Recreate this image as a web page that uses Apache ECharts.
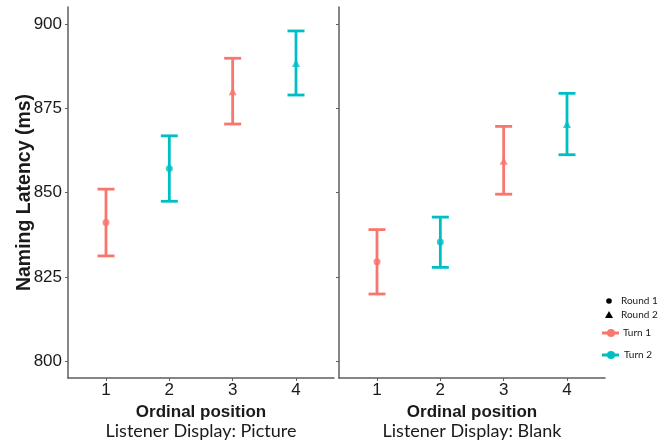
<!DOCTYPE html>
<html>
<head>
<meta charset="utf-8">
<script src="https://cdn.jsdelivr.net/npm/echarts@6/dist/echarts.min.js"></script>
<style>
  html, body { margin: 0; padding: 0; background: #fff; }
  #chart { width: 670px; height: 445px; }
</style>
</head>
<body>
<div id="chart"></div>
<script>
// ordinal positions and the condition of each point
const positions = [1, 2, 3, 4]
const turnOf = ['Turn 1', 'Turn 2', 'Turn 1', 'Turn 2']
const roundOf = ['Round 1', 'Round 1', 'Round 2', 'Round 2']
const yTicks = [800, 825, 850, 875, 900]

// Listener Display: Picture
const pictureMean = [841.1, 857.1, 880.0, 888.4]
const pictureLow = [831.2, 847.4, 870.3, 878.9]
const pictureHigh = [851.0, 866.8, 889.8, 897.9]

// Listener Display: Blank
const blankMean = [829.5, 835.3, 859.4, 870.3]
const blankLow = [819.9, 827.8, 849.5, 861.2]
const blankHigh = [839.0, 842.7, 869.6, 879.4]

const turnColor = { 'Turn 1': '#F8766D', 'Turn 2': '#00BFC4' }
const roundSymbol = { 'Round 1': 'circle', 'Round 2': 'triangle' }
const axisColor = '#5e5e5e'
const textColor = '#1a1a1a'

function errorData(low, high) {
  return positions.map((p, i) => ({
    value: [p, low[i], high[i]],
    itemStyle: { color: turnColor[turnOf[i]] }
  }))
}

function pointData(mean) {
  return positions.map((p, i) => ({
    value: [p, mean[i]],
    symbol: roundSymbol[roundOf[i]],
    symbolSize: roundOf[i] === 'Round 1' ? 7 : 8,
    itemStyle: { color: turnColor[turnOf[i]] }
  }))
}

function renderErrorBar(params, api) {
  const x = api.value(0)
  const top = api.coord([x, api.value(2)])
  const bottom = api.coord([x, api.value(1)])
  const half = 8.5
  const style = { stroke: api.visual('color'), lineWidth: 2.8 }
  return {
    type: 'group',
    children: [
      { type: 'line', shape: { x1: top[0], y1: top[1], x2: bottom[0], y2: bottom[1] }, style },
      { type: 'line', shape: { x1: top[0] - half, y1: top[1], x2: top[0] + half, y2: top[1] }, style },
      { type: 'line', shape: { x1: bottom[0] - half, y1: bottom[1], x2: bottom[0] + half, y2: bottom[1] }, style }
    ]
  }
}

function xAxisFor(gridIndex) {
  return {
    type: 'value',
    gridIndex: gridIndex,
    min: 0.4,
    max: 4.6,
    name: 'Ordinal position',
    nameLocation: 'middle',
    nameGap: 21,
    nameTextStyle: { fontFamily: 'Liberation Sans', fontWeight: 'bold', fontSize: 17, color: textColor },
    axisLine: { show: true, onZero: false, lineStyle: { color: axisColor, width: 1.5 } },
    axisTick: { show: true, length: 3, customValues: positions, lineStyle: { color: axisColor } },
    axisLabel: { customValues: positions, margin: 4, fontFamily: 'Liberation Sans', fontSize: 17, color: textColor },
    splitLine: { show: false }
  }
}

function yAxisFor(gridIndex, showLabels) {
  return {
    type: 'value',
    gridIndex: gridIndex,
    min: 795,
    max: 905,
    name: showLabels ? 'Naming Latency (ms)' : '',
    nameLocation: 'middle',
    nameGap: 33,
    nameMoveOverlap: false,
    nameTextStyle: { fontFamily: 'Liberation Sans', fontWeight: 'bold', fontSize: 19.5, color: textColor },
    axisLine: { show: true, onZero: false, lineStyle: { color: axisColor, width: 1.5 } },
    axisTick: { show: true, length: 3, customValues: yTicks, lineStyle: { color: axisColor } },
    axisLabel: { show: showLabels, customValues: yTicks, margin: 6, fontFamily: 'Liberation Sans', fontSize: 17, color: textColor },
    splitLine: { show: false }
  }
}

const chart = echarts.init(document.getElementById('chart'), null, { renderer: 'canvas' })

const legendFont = '10px Lato'
chart.setOption({
  animation: false,
  backgroundColor: '#fff',
  grid: [
    { left: 68, top: 7, width: 266, height: 371 },
    { left: 339, top: 7, width: 266, height: 371 }
  ],
  xAxis: [xAxisFor(0), xAxisFor(1)],
  yAxis: [yAxisFor(0, true), yAxisFor(1, false)],
  title: [
    { text: 'Listener Display: Picture', left: 201, top: 422, textAlign: 'center', padding: 0,
      textStyle: { fontFamily: 'Lato', fontWeight: 'normal', fontSize: 18, color: textColor } },
    { text: 'Listener Display: Blank', left: 472, top: 422, textAlign: 'center', padding: 0,
      textStyle: { fontFamily: 'Lato', fontWeight: 'normal', fontSize: 18, color: textColor } }
  ],
  series: [
    { type: 'custom', xAxisIndex: 0, yAxisIndex: 0, renderItem: renderErrorBar, encode: { x: 0, y: [1, 2] }, data: errorData(pictureLow, pictureHigh) },
    { type: 'scatter', xAxisIndex: 0, yAxisIndex: 0, data: pointData(pictureMean), z: 3 },
    { type: 'custom', xAxisIndex: 1, yAxisIndex: 1, renderItem: renderErrorBar, encode: { x: 0, y: [1, 2] }, data: errorData(blankLow, blankHigh) },
    { type: 'scatter', xAxisIndex: 1, yAxisIndex: 1, data: pointData(blankMean), z: 3 }
  ],
  graphic: [
    { type: 'circle', shape: { cx: 609, cy: 301, r: 2.8 }, style: { fill: '#000' } },
    { type: 'text', x: 621, y: 301, style: { text: 'Round 1', font: legendFont, fill: textColor, verticalAlign: 'middle' } },
    { type: 'polygon', shape: { points: [[609, 311], [613, 318], [605, 318]] }, style: { fill: '#000' } },
    { type: 'text', x: 621, y: 315, style: { text: 'Round 2', font: legendFont, fill: textColor, verticalAlign: 'middle' } },
    { type: 'line', shape: { x1: 602, y1: 333, x2: 619, y2: 333 }, style: { stroke: turnColor['Turn 1'], lineWidth: 3 } },
    { type: 'circle', shape: { cx: 611, cy: 333, r: 4 }, style: { fill: turnColor['Turn 1'] } },
    { type: 'text', x: 623, y: 333, style: { text: 'Turn 1', font: legendFont, fill: textColor, verticalAlign: 'middle' } },
    { type: 'line', shape: { x1: 602, y1: 355, x2: 619, y2: 355 }, style: { stroke: turnColor['Turn 2'], lineWidth: 3 } },
    { type: 'circle', shape: { cx: 611, cy: 355, r: 4 }, style: { fill: turnColor['Turn 2'] } },
    { type: 'text', x: 624, y: 355, style: { text: 'Turn 2', font: legendFont, fill: textColor, verticalAlign: 'middle' } }
  ]
})
</script>
</body>
</html>
